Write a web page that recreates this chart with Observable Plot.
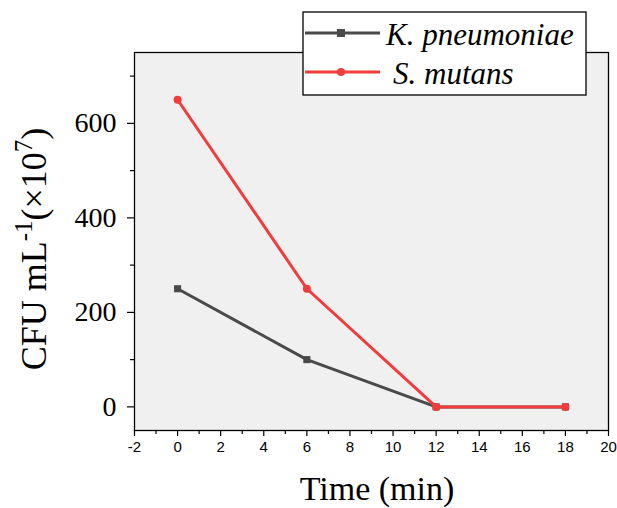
<!DOCTYPE html>
<html>
<head>
<meta charset="utf-8">
<script src="https://cdn.jsdelivr.net/npm/d3@7"></script>
<script src="https://cdn.jsdelivr.net/npm/@observablehq/plot@0.6"></script>
<style>
  html, body { margin: 0; padding: 0; background: #fff; }
  #chart { position: relative; width: 617px; height: 508px; }
</style>
</head>
<body>
<div id="chart"></div>
<script>
const times = [0, 6, 12, 18];
const seriesNames = ["K. pneumoniae", "S. mutans"];
const kValues = [250, 100, 0, 0];
const sValues = [650, 250, 0, 0];
const xMajorTicks = [-2, 0, 2, 4, 6, 8, 10, 12, 14, 16, 18, 20];
const xMinorTicks = [-1, 1, 3, 5, 7, 9, 11, 13, 15, 17, 19];
const yMajorTicks = [0, 200, 400, 600];
const yMinorTicks = [100, 300, 500, 700];
const colors = ["#4a4a4a", "#f23b3b"];

const kData = times.map((t, i) => ({time: t, value: kValues[i], series: seriesNames[0]}));
const sData = times.map((t, i) => ({time: t, value: sValues[i], series: seriesNames[1]}));

const serif = "'Liberation Serif', 'Times New Roman', serif";
const sans = "'Liberation Sans', Arial, sans-serif";

const plot = Plot.plot({
  width: 617,
  height: 508,
  marginLeft: 134,
  marginRight: 9,
  marginTop: 52,
  marginBottom: 78,
  style: {background: "white", overflow: "visible"},
  x: {domain: [-2, 20]},
  y: {domain: [-50, 750]},
  marks: [
    Plot.frame({fill: "#f0f0f0", stroke: "#000", strokeWidth: 1.3}),
    Plot.axisX({ticks: xMajorTicks, tickSize: 6, tickPadding: 5, fontSize: 15, fontFamily: sans, tickFormat: d => String(d), label: null, stroke: "#000", strokeWidth: 1.2}),
    Plot.axisX({ticks: xMinorTicks, tickSize: 4, tickFormat: () => "", label: null, stroke: "#000", strokeWidth: 1.2}),
    Plot.axisY({ticks: yMajorTicks, tickSize: 7, tickPadding: 11, fontSize: 28, fontFamily: serif, tickFormat: d => String(d), label: null, stroke: "#000", strokeWidth: 1.2}),
    Plot.axisY({ticks: yMinorTicks, tickSize: 4, tickFormat: () => "", label: null, stroke: "#000", strokeWidth: 1.2}),
    Plot.line(kData, {x: "time", y: "value", stroke: colors[0], strokeWidth: 3}),
    Plot.dot(kData, {x: "time", y: "value", symbol: "square", r: 4, fill: colors[0]}),
    Plot.line(sData, {x: "time", y: "value", stroke: colors[1], strokeWidth: 3}),
    Plot.dot(sData, {x: "time", y: "value", symbol: "circle", r: 4, fill: colors[1]})
  ]
});

document.getElementById("chart").appendChild(plot);
const svg = d3.select(plot);

// Y axis title with superscripts
const yt = svg.append("text")
  .attr("transform", "translate(46,249) rotate(-90)")
  .attr("text-anchor", "middle")
  .attr("font-family", serif)
  .attr("font-size", 36)
  .attr("fill", "#000");
yt.append("tspan").text("CFU mL");
yt.append("tspan").attr("font-size", 25).attr("dy", -14).text("-1");
yt.append("tspan").attr("dy", 14).text("(×10");
yt.append("tspan").attr("font-size", 25).attr("dy", -14).text("7");
yt.append("tspan").attr("dy", 14).text(")");

// X axis title
svg.append("text")
  .attr("x", 377).attr("y", 500)
  .attr("text-anchor", "middle")
  .attr("font-family", serif)
  .attr("font-size", 34)
  .attr("fill", "#000")
  .text("Time (min)");

// Legend
const lg = svg.append("g");
lg.append("rect").attr("x", 303).attr("y", 12).attr("width", 283).attr("height", 83)
  .attr("fill", "#fff").attr("stroke", "#000").attr("stroke-width", 1.3);
const rows = [{y: 33, ty: 45, tx: 386}, {y: 72, ty: 84, tx: 393}];
seriesNames.forEach((name, i) => {
  const r = rows[i];
  lg.append("line").attr("x1", 305).attr("x2", 380).attr("y1", r.y).attr("y2", r.y)
    .attr("stroke", colors[i]).attr("stroke-width", 3);
  if (i === 0) {
    lg.append("rect").attr("x", 337).attr("y", r.y - 4).attr("width", 8).attr("height", 8).attr("fill", colors[i]);
  } else {
    lg.append("circle").attr("cx", 341).attr("cy", r.y).attr("r", 4).attr("fill", colors[i]);
  }
  lg.append("text").attr("x", r.tx).attr("y", r.ty)
    .attr("text-anchor", "start")
    .attr("font-family", serif).attr("font-style", "italic").attr("font-size", 31)
    .attr("fill", "#000").text(name);
});
</script>
</body>
</html>
